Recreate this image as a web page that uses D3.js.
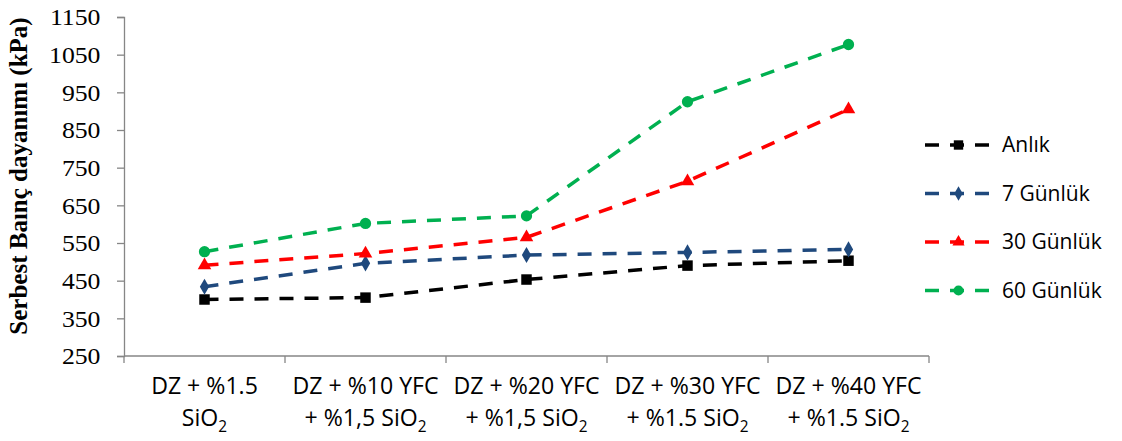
<!DOCTYPE html>
<html>
<head>
<meta charset="utf-8">
<script src="https://cdn.jsdelivr.net/npm/d3@7"></script>
<style>
  body { margin: 0; background: #fff; }
  svg { display: block; }
</style>
</head>
<body>
<svg id="chart" width="1122" height="441"></svg>
<script>
// categorías del eje X (dos renglones, el segundo termina con SiO2)
const catLine1 = ["DZ + %1.5", "DZ + %10 YFC", "DZ + %20 YFC", "DZ + %30 YFC", "DZ + %40 YFC"]
const catLine2 = ["", "+ %1,5 ", "+ %1,5 ", "+ %1.5 ", "+ %1.5 "]

// valores de cada serie
const anlik = [400, 405, 453, 490, 503]
const gun7 = [434, 496, 518, 525, 533]
const gun30 = [491, 522, 565, 714, 905]
const gun60 = [527, 602, 622, 925, 1077]

const seriesNames = ["Anlık", "7 Günlük", "30 Günlük", "60 Günlük"]
const yTicks = [250, 350, 450, 550, 650, 750, 850, 950, 1050, 1150]

const series = [
    { name: seriesNames[0], values: anlik, color: "#000000", symbol: d3.symbolSquare, size: 110 },
    { name: seriesNames[1], values: gun7, color: "#1F497D", symbol: d3.symbolDiamond, size: 75 },
    { name: seriesNames[2], values: gun30, color: "#FF0000", symbol: d3.symbolTriangle, size: 80 },
    { name: seriesNames[3], values: gun60, color: "#00B050", symbol: d3.symbolCircle, size: 100 }
]

const svg = d3.select("#chart")
const mLeft = 124, mRight = 929, mTop = 17, mBottom = 356

// escalas
const x = d3.scaleBand().domain(d3.range(catLine1.length)).range([mLeft, mRight]).padding(0)
const y = d3.scaleLinear().domain([250, 1150]).range([mBottom, mTop])
const cx = i => x(i) + x.bandwidth() / 2

// eje Y
const yAxis = svg.append("g")
    .attr("transform", `translate(${mLeft},0)`)
    .call(d3.axisLeft(y).tickValues(yTicks).tickFormat(d3.format("d")).tickSize(7).tickPadding(14))
yAxis.select(".domain").attr("stroke", "#868686").attr("stroke-width", 1.3)
yAxis.selectAll(".tick line").attr("stroke", "#868686").attr("stroke-width", 1.3)
yAxis.selectAll(".tick text")
    .attr("font-family", "'Liberation Serif', 'Times New Roman', serif")
    .attr("font-size", 23)
    .attr("fill", "#000")
    .attr("dy", "0.34em")
    .attr("transform", "scale(1.12,1)")

// eje X (línea y marcas entre categorías)
svg.append("line")
    .attr("x1", mLeft).attr("x2", mRight)
    .attr("y1", y(250)).attr("y2", y(250))
    .attr("stroke", "#868686").attr("stroke-width", 1.3)
const edges = d3.range(catLine1.length).map(i => x(i)).concat([mRight])
svg.append("g").selectAll("line")
    .data(edges)
    .join("line")
    .attr("x1", d => d).attr("x2", d => d)
    .attr("y1", y(250)).attr("y2", y(250) + 7)
    .attr("stroke", "#868686").attr("stroke-width", 1.3)

// etiquetas del eje X
const labelFont = "'Open Sans', 'Noto Sans', sans-serif"
const xl = svg.append("g").selectAll("g")
    .data(catLine1)
    .join("g")
    .attr("transform", (d, i) => `translate(${cx(i)},0)`)
    .attr("font-family", labelFont)
    .attr("font-size", 21)
    .attr("text-anchor", "middle")
xl.append("text").attr("transform", "scale(1.1,1.14)").attr("y", 394 / 1.14).text(d => d)
const l2 = xl.append("text").attr("transform", "scale(1.1,1.14)").attr("y", 426 / 1.14)
l2.append("tspan").text((d, i) => catLine2[i] + "SiO")
l2.append("tspan").attr("font-size", 14).attr("dy", 5).text("2")

// título del eje Y
svg.append("text")
    .attr("transform", `translate(27,176) rotate(-90)`)
    .attr("text-anchor", "middle")
    .attr("font-family", "'Liberation Serif', 'Times New Roman', serif")
    .attr("font-weight", "bold")
    .attr("font-size", 25)
    .text("Serbest Baınç dayanımı (kPa)")

// líneas y marcadores
const line = d3.line().x((d, i) => cx(i)).y(d => y(d))
series.forEach(s => {
    svg.append("path")
        .attr("d", line(s.values))
        .attr("fill", "none")
        .attr("stroke", s.color)
        .attr("stroke-width", 3.5)
        .attr("stroke-dasharray", "14,11")
    svg.append("g").selectAll("path")
        .data(s.values)
        .join("path")
        .attr("d", d3.symbol().type(s.symbol).size(s.size))
        .attr("transform", (d, i) => `translate(${cx(i)},${y(d)})`)
        .attr("fill", s.color)
})

// leyenda
const legend = svg.append("g").selectAll("g")
    .data(series)
    .join("g")
    .attr("transform", (d, i) => `translate(925,${145 + i * 48.5})`)
legend.append("line")
    .attr("x1", 0).attr("x2", 67)
    .attr("stroke", d => d.color)
    .attr("stroke-width", 3.5)
    .attr("stroke-dasharray", "14,11")
legend.append("path")
    .attr("d", d => d3.symbol().type(d.symbol).size(d.size * 0.8)())
    .attr("transform", "translate(33.5,0)")
    .attr("fill", d => d.color)
legend.append("text")
    .attr("x", 77).attr("dy", "0.35em")
    .attr("font-family", "'Open Sans', 'Noto Sans', sans-serif")
    .attr("font-size", 21)
    .text(d => d.name)
</script>
</body>
</html>
